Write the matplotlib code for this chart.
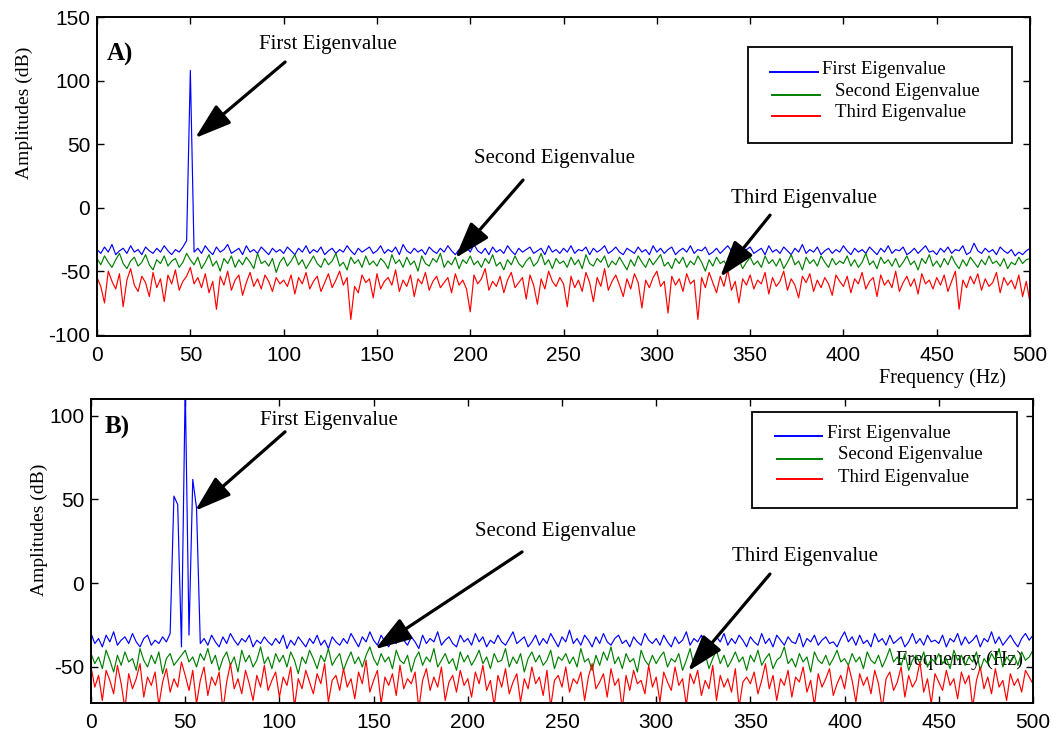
import numpy as np
import matplotlib
matplotlib.use("Agg")
import matplotlib.pyplot as plt
from matplotlib.lines import Line2D
from matplotlib.patches import Rectangle

plt.rcParams["axes.unicode_minus"] = False

# ---------------- data (dB, frequency step 2 Hz from 0 to 500 Hz) ----------------
freq = np.arange(0, 501, 2)

a_first = [
    -33,-36,-31,-35,-29,-37,-34,-32,-36,-30,-35,-33,-37,-31,-34,-36,-32,-35,-30,-34,-37,-33,-35,-31,-26,
    108,-35,-32,-36,-30,-34,-37,-31,-35,-33,-29,-36,-34,-32,-37,-30,-35,-33,-36,-31,-34,-37,-32,-35,-33,
    -36,-31,-34,-37,-32,-35,-30,-36,-33,-35,-31,-37,-34,-32,-36,-33,-35,-30,-34,-37,-32,-35,-33,-31,-36,
    -34,-30,-36,-33,-35,-31,-37,-29,-34,-36,-32,-35,-33,-37,-31,-34,-36,-32,-35,-30,-34,-37,-33,-35,-31,
    -35,-29,-34,-36,-32,-37,-31,-35,-33,-36,-30,-34,-37,-32,-35,-33,-31,-36,-34,-32,-37,-30,-35,-33,-36,
    -32,-35,-30,-36,-33,-34,-31,-37,-32,-35,-33,-30,-36,-34,-31,-35,-37,-32,-34,-36,-31,-35,-33,-37,-30,
    -35,-32,-36,-33,-31,-37,-34,-32,-35,-30,-36,-33,-34,-31,-37,-35,-32,-36,-33,-30,-34,-37,-32,-35,-33,
    -31,-36,-34,-32,-37,-30,-35,-33,-36,-31,-34,-37,-32,-35,-29,-36,-33,-35,-31,-37,-34,-32,-36,-33,-35,
    -30,-34,-37,-32,-35,-33,-36,-31,-34,-37,-32,-35,-30,-36,-33,-34,-31,-37,-35,-32,-36,-33,-30,-35,-34,
    -37,-32,-35,-31,-36,-33,-34,-30,-37,-35,-28,-34,-36,-32,-35,-33,-37,-31,-34,-36,-33,-38,-35,-37,-34,
    -32]

a_second = [
    -40,-45,-38,-43,-47,-41,-36,-44,-48,-42,-39,-46,-43,-37,-45,-49,-41,-44,-38,-46,-42,-40,-47,-43,-36,
    -41,-45,-39,-48,-43,-37,-46,-42,-50,-40,-44,-38,-47,-41,-45,-39,-43,-48,-36,-44,-42,-46,-40,-51,-43,
    -39,-46,-42,-37,-45,-41,-48,-43,-38,-44,-47,-40,-45,-42,-36,-46,-43,-49,-39,-44,-41,-47,-38,-45,-42,
    -46,-40,-43,-48,-37,-44,-41,-47,-39,-45,-42,-50,-38,-44,-46,-40,-43,-36,-47,-42,-45,-39,-48,-41,-44,
    -38,-45,-42,-47,-40,-44,-37,-46,-43,-49,-41,-45,-38,-44,-47,-42,-39,-46,-43,-36,-45,-41,-48,-40,-44,
    -42,-47,-39,-45,-41,-48,-37,-44,-46,-40,-43,-38,-47,-42,-45,-39,-44,-49,-41,-46,-38,-43,-47,-40,-45,
    -41,-37,-46,-43,-48,-40,-44,-39,-47,-42,-45,-38,-43,-50,-41,-46,-39,-44,-42,-47,-37,-45,-41,-48,-43,
    -39,-45,-42,-47,-38,-44,-41,-46,-40,-48,-43,-37,-45,-42,-49,-39,-44,-41,-46,-38,-43,-47,-40,-45,-42,
    -44,-38,-46,-41,-47,-43,-36,-45,-42,-48,-39,-44,-41,-46,-40,-47,-43,-38,-45,-42,-49,-40,-44,-37,-46,
    -42,-47,-40,-45,-38,-44,-48,-41,-46,-39,-43,-47,-41,-45,-38,-44,-42,-46,-40,-48,-43,-45,-39,-44,-41,
    -40]

a_third = [
    -55,-62,-75,-50,-58,-64,-52,-78,-57,-48,-61,-66,-54,-59,-70,-51,-63,-56,-74,-53,-60,-49,-65,-58,-54,
    -47,-60,-55,-63,-52,-67,-58,-80,-54,-61,-50,-65,-57,-53,-69,-59,-51,-62,-56,-64,-53,-58,-66,-55,-60,
    -57,-62,-53,-68,-55,-60,-51,-64,-58,-54,-66,-59,-52,-63,-57,-50,-61,-55,-88,-62,-67,-53,-59,-56,-71,
    -52,-64,-58,-55,-61,-49,-66,-57,-62,-53,-70,-56,-60,-51,-65,-58,-54,-63,-59,-55,-67,-52,-61,-57,-64,
    -82,-53,-60,-56,-48,-65,-58,-62,-54,-67,-57,-51,-63,-59,-55,-72,-53,-61,-76,-56,-64,-50,-58,-62,-55,
    -60,-78,-54,-63,-57,-66,-51,-59,-74,-55,-62,-48,-65,-58,-53,-61,-70,-56,-64,-52,-59,-79,-57,-63,-55,
    -50,-62,-58,-83,-54,-61,-56,-66,-52,-60,-57,-88,-55,-63,-51,-59,-67,-54,-62,-49,-65,-58,-75,-56,-61,
    -53,-64,-57,-60,-51,-68,-55,-62,-58,-50,-65,-56,-61,-71,-54,-59,-52,-66,-57,-63,-55,-60,-69,-53,-58,
    -62,-54,-67,-56,-60,-51,-64,-58,-55,-70,-53,-61,-57,-63,-50,-66,-59,-54,-62,-56,-68,-52,-60,-57,-64,
    -55,-61,-53,-66,-58,-50,-80,-57,-63,-54,-60,-52,-65,-56,-62,-59,-51,-67,-55,-61,-57,-64,-53,-70,-58,
    -75]

b_first = [
    -30,-36,-33,-38,-31,-35,-29,-37,-34,-32,-36,-30,-35,-38,-33,-31,-37,-34,-36,-32,-35,-30,52,47,-38,
    118,-31,62,45,-36,-33,-37,-31,-35,-38,-32,-36,-30,-34,-37,-33,-35,-31,-38,-34,-36,-32,-35,-37,-33,
    -36,-31,-39,-34,-37,-32,-35,-38,-33,-36,-31,-37,-34,-39,-32,-35,-37,-33,-36,-30,-34,-38,-32,-35,-29,
    -34,-37,-31,-35,-38,-33,-36,-30,-34,-37,-32,-35,-39,-31,-36,-33,-35,-29,-37,-34,-32,-36,-38,-31,-35,
    -33,-37,-30,-35,-32,-38,-34,-36,-31,-35,-37,-33,-29,-36,-34,-32,-38,-35,-31,-37,-33,-36,-30,-34,-38,
    -32,-35,-28,-36,-33,-37,-31,-34,-38,-32,-36,-30,-35,-37,-33,-31,-36,-34,-38,-32,-35,-37,-30,-34,-36,
    -33,-37,-31,-35,-38,-32,-36,-34,-29,-37,-33,-35,-31,-38,-34,-36,-32,-35,-30,-37,-33,-36,-31,-34,-38,
    -32,-35,-37,-30,-36,-33,-38,-31,-34,-37,-32,-35,-36,-30,-38,-33,-35,-31,-37,-34,-32,-36,-35,-38,-33,
    -29,-35,-32,-37,-31,-36,-34,-38,-30,-35,-33,-37,-31,-36,-34,-32,-38,-35,-30,-36,-33,-37,-31,-35,-34,
    -36,-31,-38,-33,-35,-30,-37,-32,-36,-34,-31,-38,-33,-35,-29,-36,-32,-37,-34,-31,-35,-38,-33,-30,-34,
    -31]

b_second = [
    -42,-48,-44,-51,-40,-46,-53,-43,-49,-41,-47,-45,-52,-39,-46,-50,-43,-48,-41,-54,-45,-42,-49,-46,-43,
    -40,-47,-44,-50,-42,-46,-39,-48,-43,-52,-45,-41,-49,-44,-53,-40,-47,-43,-50,-46,-38,-48,-44,-51,-42,
    -47,-43,-50,-41,-46,-54,-44,-48,-40,-45,-51,-43,-47,-39,-49,-45,-42,-52,-46,-41,-48,-44,-50,-43,-38,
    -45,-49,-42,-47,-44,-51,-40,-46,-48,-43,-53,-45,-41,-49,-44,-47,-39,-50,-46,-42,-48,-45,-52,-41,-47,
    -43,-49,-45,-40,-48,-44,-51,-42,-47,-46,-39,-50,-44,-48,-42,-53,-45,-41,-47,-43,-49,-46,-40,-51,-44,
    -46,-42,-48,-44,-50,-39,-47,-45,-52,-43,-49,-41,-46,-38,-48,-44,-51,-42,-47,-45,-53,-40,-46,-49,-43,
    -48,-44,-41,-50,-45,-47,-42,-52,-46,-39,-49,-44,-47,-42,-51,-45,-40,-48,-43,-50,-46,-41,-47,-44,-52,
    -43,-47,-40,-49,-45,-42,-51,-46,-44,-38,-48,-45,-50,-42,-47,-44,-53,-41,-46,-48,-43,-49,-45,-40,-47,
    -45,-49,-42,-47,-44,-51,-41,-46,-48,-43,-50,-45,-39,-47,-44,-49,-42,-52,-46,-43,-48,-41,-50,-45,-47,
    -42,-48,-45,-51,-40,-46,-43,-49,-44,-47,-41,-52,-45,-48,-42,-46,-39,-50,-44,-47,-43,-49,-41,-46,-44,
    -40]

b_third = [
    -50,-62,-55,-70,-52,-58,-66,-49,-60,-75,-54,-63,-57,-48,-68,-56,-61,-53,-73,-59,-51,-65,-57,-62,-47,
    -55,-64,-52,-72,-58,-50,-67,-56,-61,-53,-76,-59,-48,-63,-57,-66,-52,-60,-70,-55,-62,-49,-64,-58,-53,
    -68,-56,-61,-50,-74,-57,-63,-52,-59,-66,-54,-60,-48,-71,-58,-55,-64,-51,-62,-57,-69,-53,-60,-46,-65,
    -58,-52,-72,-56,-61,-54,-67,-49,-63,-57,-60,-53,-75,-58,-51,-64,-56,-62,-50,-70,-59,-55,-65,-52,-61,
    -57,-68,-53,-60,-49,-64,-58,-73,-55,-62,-51,-66,-59,-54,-71,-57,-63,-50,-60,-56,-67,-52,-74,-58,-55,
    -62,-50,-65,-57,-60,-53,-70,-56,-48,-63,-59,-54,-68,-51,-61,-57,-75,-55,-64,-52,-60,-58,-66,-49,-62,
    -56,-71,-53,-59,-64,-50,-61,-57,-73,-54,-60,-52,-67,-58,-63,-49,-70,-55,-62,-57,-65,-51,-74,-59,-56,
    -60,-53,-66,-58,-48,-63,-55,-70,-57,-61,-52,-68,-56,-59,-50,-65,-58,-73,-54,-62,-57,-51,-67,-60,-55,
    -63,-49,-58,-71,-54,-61,-56,-66,-52,-60,-75,-57,-53,-64,-59,-50,-68,-55,-62,-58,-47,-65,-57,-72,-54,
    -59,-64,-52,-61,-57,-69,-53,-60,-55,-74,-58,-50,-63,-56,-66,-51,-62,-58,-70,-54,-61,-57,-65,-52,-56,
    -60]

series_names = ["First Eigenvalue", "Second Eigenvalue", "Third Eigenvalue"]
colors = ["#0000ff", "#008000", "#ff0000"]
xticks = list(range(0, 501, 50))
yticks_a = [-100, -50, 0, 50, 100, 150]
yticks_b = [-50, 0, 50, 100]

SERIF = "Liberation Serif"
SANS = "Liberation Sans"
ANN_FS = 15

fig = plt.figure(figsize=(10.56, 7.31), dpi=100)
axA = fig.add_axes([0.0919, 0.5404, 0.8835, 0.4363])
axB = fig.add_axes([0.0862, 0.0383, 0.8920, 0.4159])


def style_axis(ax, yticks, ylim):
    ax.set_xlim(0, 500)
    ax.set_ylim(*ylim)
    ax.set_xticks(xticks)
    ax.set_yticks(yticks)
    ax.tick_params(direction="in", top=True, right=True, length=5, width=1,
                   labelsize=15)
    ax.tick_params(axis="x", pad=7)
    ax.tick_params(axis="y", pad=5)
    for lab in ax.get_xticklabels() + ax.get_yticklabels():
        lab.set_fontfamily(SANS)
    for sp in ax.spines.values():
        sp.set_linewidth(1.4)


def legend_box(ax, box, rows):
    x0, y0, x1, y1 = box
    ax.add_patch(Rectangle((x0, y0), x1 - x0, y1 - y0, transform=ax.transAxes,
                           fill=True, facecolor="white", edgecolor="black",
                           linewidth=1.3, zorder=5))
    for (lx0, lx1, ly, tx, ty), name, c in zip(rows, series_names, colors):
        ax.add_line(Line2D([lx0, lx1], [ly, ly], transform=ax.transAxes,
                           color=c, linewidth=1.4, zorder=6))
        ax.text(tx, ty, name, transform=ax.transAxes, ha="left", va="center",
                fontsize=13.5, family=SERIF, zorder=6)


arrow_kw = dict(arrowstyle="-|>,head_length=0.8,head_width=0.26", color="black",
                lw=2.3, mutation_scale=28, shrinkA=0, shrinkB=0)

# ---------------- Panel A ----------------
for vals, c in zip([a_first, a_second, a_third], colors):
    axA.plot(freq, vals, color=c, linewidth=0.85)
style_axis(axA, yticks_a, (-101, 150))
axA.set_ylabel("Amplitudes (dB)", fontsize=14, family=SERIF)
axA.yaxis.set_label_coords(-0.069, 0.70)
axA.set_xlabel("Frequency (Hz)", fontsize=14.5, family=SERIF)
axA.xaxis.set_label_coords(0.906, -0.10)
axA.text(5.4, 120.5, "A)", fontsize=18, fontweight="bold", family=SERIF,
         ha="left", va="center")
axA.annotate("", xy=(52.5, 54.7), xytext=(100.8, 114.6), arrowprops=arrow_kw)
axA.text(123.8, 128.7, "First Eigenvalue", fontsize=ANN_FS, family=SERIF, ha="center", va="center")
axA.annotate("", xy=(191.9, -39.8), xytext=(228.3, 21.7), arrowprops=arrow_kw)
axA.text(245.4, 39.0, "Second Eigenvalue", fontsize=ANN_FS, family=SERIF, ha="center", va="center")
axA.annotate("", xy=(333.9, -54.7), xytext=(360.7, -5.9), arrowprops=arrow_kw)
axA.text(378.9, 7.5, "Third Eigenvalue", fontsize=ANN_FS, family=SERIF, ha="center", va="center")
legend_box(axA, (0.698, 0.605, 0.981, 0.906),
           [(0.721, 0.773, 0.828, 0.777, 0.837),
            (0.723, 0.775, 0.755, 0.791, 0.765),
            (0.723, 0.775, 0.690, 0.791, 0.702)])

# ---------------- Panel B ----------------
for vals, c in zip([b_first, b_second, b_third], colors):
    axB.plot(freq, vals, color=c, linewidth=0.85)
style_axis(axB, yticks_b, (-71.5, 110))
axB.set_ylabel("Amplitudes (dB)", fontsize=14, family=SERIF)
axB.yaxis.set_label_coords(-0.046, 0.569)
axB.set_xlabel("Frequency (Hz)", fontsize=14.5, family=SERIF, va="center")
axB.xaxis.set_label_coords(0.922, 0.141)
axB.text(7.4, 92.8, "B)", fontsize=18, fontweight="bold", family=SERIF,
         ha="left", va="center")
axB.annotate("", xy=(55.2, 43.2), xytext=(103.0, 90.4), arrowprops=arrow_kw)
axB.text(126.3, 97.0, "First Eigenvalue", fontsize=ANN_FS, family=SERIF, ha="center", va="center")
axB.annotate("", xy=(150.7, -39.4), xytext=(228.8, 18.7), arrowprops=arrow_kw)
axB.text(246.3, 30.6, "Second Eigenvalue", fontsize=ANN_FS, family=SERIF, ha="center", va="center")
axB.annotate("", xy=(316.9, -52.5), xytext=(360.4, 5.5), arrowprops=arrow_kw)
axB.text(379.0, 15.7, "Third Eigenvalue", fontsize=ANN_FS, family=SERIF, ha="center", va="center")
legend_box(axB, (0.702, 0.641, 0.983, 0.957),
           [(0.726, 0.776, 0.878, 0.781, 0.885),
            (0.728, 0.776, 0.803, 0.793, 0.816),
            (0.728, 0.776, 0.737, 0.793, 0.743)])

fig.savefig("out.png", dpi=100)
